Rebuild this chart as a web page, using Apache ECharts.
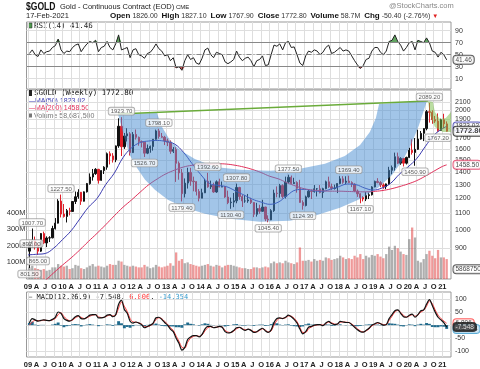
<!DOCTYPE html>
<html><head><meta charset="utf-8">
<script src="https://cdn.jsdelivr.net/npm/echarts/dist/echarts.min.js"></script>
<style>html,body{margin:0;padding:0;background:#fff}#c{width:480px;height:369px}</style>
</head><body><div id="c"></div><script>
// ---- monthly data, Jan 2009 .. Feb 2021 (month index 0 = Jan 2009) ----
const priceOpen = [
 884,928,942,916,884,979,927,954,955,1008,1040,1182,
 1096,1081,1118,1113,1179,1212,1244,1181,1247,1308,1359,1386,
 1421,1333,1411,1439,1556,1536,1502,1628,1825,1620,1725,1746,
 1566,1740,1711,1669,1664,1561,1604,1622,1692,1776,1720,1712,
 1676,1663,1578,1595,1472,1392,1234,1312,1396,1327,1323,1250,
 1202,1240,1326,1284,1295,1246,1322,1282,1287,1210,1171,1175,
 1184,1279,1213,1183,1183,1190,1172,1095,1132,1114,1142,1065,
 1060,1118,1238,1235,1293,1214,1320,1357,1309,1316,1273,1173,
 1152,1211,1252,1249,1269,1269,1242,1270,1322,1284,1271,1275,
 1309,1345,1318,1327,1316,1305,1253,1233,1206,1196,1220,1226,
 1283,1325,1316,1298,1285,1306,1413,1437,1529,1473,1514,1473,
 1523,1588,1567,1596,1694,1751,1800,1986,1978,1896,1880,1780,
 1895,1850];
const priceHigh = [
 943,1008,962,926,982,990,963,964,1024,1071,1195,1227.5,
 1162,1129,1137,1180,1249,1266,1246,1250,1313,1388,1424,1431,
 1425,1412,1447,1567,1577,1561,1632,1911,1923.7,1755,1804,1763,
 1764,1791,1719,1680,1667,1641,1632,1693,1790,1798.1,1755,1726,
 1698,1680,1617,1615,1488,1424,1348,1434,1434,1362,1327,1267,
 1270,1345,1392.6,1331,1315,1333,1346,1324,1290,1256,1206,1239,
 1307.8,1284,1224,1224,1232,1205,1175,1170,1157,1191,1143,1088,
 1128,1263,1287,1306,1303,1362,1377.5,1371,1353,1326,1337,1187,
 1220,1264,1264,1297,1275,1297,1277,1331,1362,1308,1300,1310,
 1366,1366,1365,1369.4,1326,1310,1264,1237,1216,1245,1242,1289,
 1331,1350,1327,1310,1309,1442,1453,1566,1566,1525,1518,1529,
 1611,1692,1704,1789,1775,1803,2005,2089.2,2001,1937,1966,1906,
 1962,1877];
const priceLow = [
 801.5,904,892,865,880,921,905,932,952,1002,1038,1075,
 1074,1044,1088,1112,1162,1198,1156,1179,1242,1300,1331,1376,
 1308,1330,1383,1418,1462,1478,1481,1610,1535,1600,1670,1540,
 1562,1689,1630,1614,1526.7,1552,1565,1584,1688,1698,1706,1636,
 1626,1555,1562,1321,1338,1179.4,1207,1271,1292,1251,1221,1180,
 1202,1238,1277,1268,1240,1240,1280,1281,1204,1161,1130.4,1141,
 1167,1191,1142,1170,1170,1162,1077,1080,1098,1110,1052,1045.4,
 1058,1110,1208,1206,1200,1200,1310,1303,1305,1241,1171,1124.3,
 1146,1206,1196,1241,1214,1236,1204,1266,1276,1260,1264,1238,
 1303,1307,1303,1312,1282,1245,1211,1167.1,1180,1182,1196,1221,
 1280,1310,1281,1269,1267,1299,1381,1410,1465,1459,1445,1462,
 1517,1548,1450.9,1590,1688,1674,1782,1864,1851,1860,1767.2,1775,
 1803,1767.9];
const priceClose = [
 928,942,916,884,979,927,954,955,1008,1040,1182,1096,
 1081,1118,1113,1179,1212,1244,1181,1247,1308,1359,1386,1421,
 1333,1411,1439,1556,1536,1502,1628,1825,1620,1725,1746,1566,
 1740,1711,1669,1664,1561,1604,1622,1692,1776,1720,1712,1676,
 1663,1578,1595,1472,1392,1234,1312,1396,1327,1323,1250,1202,
 1240,1326,1284,1295,1246,1322,1282,1287,1210,1171,1175,1184,
 1279,1213,1183,1183,1190,1172,1095,1132,1114,1142,1065,1060,
 1118,1238,1235,1293,1214,1320,1357,1309,1316,1273,1173,1152,
 1211,1252,1249,1269,1269,1242,1270,1322,1284,1271,1275,1309,
 1345,1318,1327,1316,1305,1253,1233,1206,1196,1220,1226,1283,
 1325,1316,1298,1285,1306,1413,1437,1529,1473,1514,1473,1523,
 1588,1567,1596,1694,1751,1800,1986,1978,1896,1880,1780,1895,
 1850,1772.8];
const volumeM = [
 70,80,65,60,55,60,50,55,70,70,90,80,
 75,80,60,65,85,80,65,60,70,80,90,75,
 80,75,70,80,90,85,85,110,105,85,80,75,
 80,75,70,70,85,75,65,70,85,75,70,75,
 80,95,80,160,110,120,95,100,90,85,80,75,
 80,85,90,80,75,85,80,70,80,85,85,80,
 75,70,65,65,60,60,70,70,65,70,75,70,
 95,105,95,100,95,110,100,95,90,100,190,110,
 110,115,105,120,110,115,110,130,125,115,120,125,
 140,130,120,125,120,140,130,150,120,140,130,145,
 140,150,135,125,150,195,175,200,185,165,150,145,
 240,310,250,110,100,120,150,170,140,125,175,130,
 130,120];
const rsi14 = [
 52,58,50,47,58,52,55,56,62,65,76,58,
 52,56,55,62,66,68,55,62,68,72,70,74,
 55,62,64,72,62,58,68,83,58,60,62,45,
 58,60,50,48,44,52,54,60,68,60,56,48,
 50,40,45,28,30,24,40,50,42,45,36,34,
 44,58,61,50,45,54,52,50,38,35,38,42,
 56,46,40,44,46,40,30,40,42,48,32,33,
 50,66,64,68,58,70,72,62,63,50,36,32,
 48,56,54,58,56,50,54,62,66,52,54,58,
 62,56,58,56,48,40,33,27,32,42,44,56,
 62,62,54,50,56,72,74,83,72,66,56,62,
 70,72,58,74,72,70,78,70,56,54,46,54,
 50,41.46];
const macdLine = [
 8,25,20,15,18,20,18,17,22,30,50,45,
 25,18,15,22,32,36,25,24,30,38,40,40,
 28,28,30,38,40,32,40,80,95,60,45,15,
 8,12,8,2,-10,-5,0,8,28,30,22,10,
 0,-15,-25,-50,-70,-95,-85,-55,-45,-40,-40,-45,
 -35,-15,-5,-5,-10,-8,-5,-8,-25,-30,-28,-20,
 -10,-8,-15,-20,-15,-20,-28,-25,-18,-12,-22,-28,
 -18,10,25,28,25,30,38,32,22,8,-15,-33,
 -25,-8,-5,0,2,2,-2,8,14,6,2,4,
 14,12,10,10,2,-8,-18,-25,-27,-20,-12,0,
 5,10,5,0,2,25,40,55,58,45,32,30,
 38,42,30,40,55,58,80,97,75,50,30,20,
 10,-7.548];
const macdSignal = [
 0,12,18,17,17,19,18,17,20,25,40,47,
 33,22,17,19,28,33,30,25,28,34,38,40,
 32,29,30,35,38,35,38,65,88,72,52,25,
 12,11,9,4,-6,-6,-2,5,22,28,25,14,
 4,-10,-20,-42,-62,-85,-88,-65,-50,-43,-40,-43,
 -38,-22,-10,-6,-9,-8,-6,-7,-20,-27,-28,-23,
 -14,-9,-13,-18,-16,-19,-25,-26,-20,-14,-19,-26,
 -22,0,18,26,26,28,35,34,26,13,-8,-28,
 -28,-14,-7,-2,1,2,0,5,12,9,4,3,
 11,12,11,10,4,-4,-14,-22,-26,-22,-15,-3,
 3,8,6,2,2,18,34,50,56,49,37,31,
 35,40,34,38,50,56,72,92,82,58,38,25,
 16,6.806];
// moving averages (month index, value)
const maMonths = [0,3,6,9,12,15,18,21,24,27,30,33,36,39,42,45,48,51,54,57,60,63,66,69,72,75,78,81,84,87,90,93,96,99,102,105,108,111,114,117,120,123,126,129,132,135,138,141,144,145.5];
const ma50Values = [865,868,872,900,945,995,1065,1140,1200,1300,1390,1520,1610,1660,1675,1680,1670,1645,1570,1470,1380,1310,1295,1285,1255,1225,1195,1175,1160,1175,1220,1260,1265,1255,1250,1265,1285,1305,1300,1275,1260,1275,1310,1380,1440,1510,1620,1730,1800,1823.02];
const ma200Values = [690,715,745,780,815,850,890,935,980,1030,1085,1140,1190,1245,1300,1345,1385,1415,1440,1455,1462,1466,1468,1465,1455,1440,1420,1395,1365,1345,1315,1290,1270,1260,1255,1252,1252,1250,1248,1247,1250,1256,1268,1285,1305,1330,1365,1405,1445,1458.5];
// tick values
const quarterTicks = []; for (let q = 0; q <= 144; q += 3) quarterTicks.push(q);
const priceTicks = [900,1000,1100,1200,1300,1400,1500,1600,1700,1800,1900,2000,2100];
const volumeTicks = [100,200,300,400];
const rsiTicks = [10,30,50,70,90];
const macdTicks = [-100,-50,0,50,100];
const macdLabelTicks = [-100,-50,50,100];
// drawn annotations (month index, price)
const cupOuter = [[31.3,1958],[32.3,1837],[33.7,1685],[35.4,1545],[37.9,1433],[40.7,1337],[44.1,1262],[48.6,1191],[54.6,1137],[61.5,1098],[70.2,1067],[80.6,1049],[91.0,1055],[99.7,1086],[108.4,1137],[115.4,1197],[121.6,1275],[126.5,1376],[130.3,1501],[133.4,1656],[135.9,1837],[137.6,2005],[138.6,2112]];
const cupInner = [[122.0,2076],[120.9,1913],[118.8,1764],[115.4,1637],[110.1,1536],[103.2,1467],[94.5,1425],[84.1,1409],[73.7,1417],[65.0,1441],[58.0,1510],[52.8,1590],[49.3,1685],[46.6,1818],[44.8,1970]];
const handleShape = [[139.0,2112],[139.7,1946],[141.4,1818],[144.2,1764],[147.0,1764],[147.0,1981],[145.2,1913],[143.1,1902],[141.4,1981],[140.7,2100]];
const trendLine = [[31.3,1958],[139.0,2112]];
const annHighs = [[1.5,1007.7],[1.2,892],[11.5,1227.5],[32.5,1923.7],[45.5,1798.1],[62.5,1392.6],[72.5,1307.8],[90.5,1377.5],[111.5,1369.4],[139.5,2089.2]];
const annLows = [[0.5,801.5],[3.5,865],[40.5,1526.7],[53.5,1179.4],[70.5,1130.4],[83.5,1045.4],[95.5,1124.3],[115.5,1167.1],[134.5,1450.9],[142.5,1767.2]];
const lastClose = 1772.8, lastVolume = 58687500, lastRsi = 41.46;

const LN = Math.log;
const FONT = 'Liberation Sans, Arial, sans-serif';
const MONO = 'DejaVu Sans Mono, monospace';
const monthLetter = {3:'A',6:'J',9:'O'};
const XMAX = 147;

function xAxis(gi, show){
  return {type:'value', gridIndex:gi, min:-0.5, max:XMAX,
    axisLine:{show:false},
    axisTick:{show:false, customValues:quarterTicks},
    splitLine:{show:true, lineStyle:{color:'#dedede', width:1}},
    axisLabel:{show:show, customValues:quarterTicks, margin:4, fontSize:7.5, fontWeight:'bold', color:'#222', fontFamily:FONT,
      formatter:v=>{const k=Math.round(v); if(k%12===0) return String(9+k/12).padStart(2,'0'); return monthLetter[k%12]||'';}}};
}
const boxLabel = {fontSize:6, color:'#333', fontFamily:FONT, backgroundColor:'rgba(255,255,255,0.9)', borderColor:'#999', borderWidth:0.8, borderRadius:2, padding:[1,2,0,2]};
function endLabel(color, bold){
  return {show:true, position:'right', distance:2, fontSize:bold?7.5:6.5, fontWeight:bold?'bold':'normal', color:'#111', fontFamily:FONT,
    backgroundColor:'#fff', borderColor:color, borderWidth:1, borderRadius:3, padding:[1,2,0,2]};
}

const idx = priceClose.map((_,i)=>i+0.5);
const candleData = priceOpen.map((o,i)=>[idx[i], LN(o), LN(priceClose[i]), LN(priceLow[i]), LN(priceHigh[i])]);
const volData = volumeM.map((v,i)=>({value:[idx[i], v], itemStyle:{color: priceClose[i] < priceOpen[i] ? 'rgba(225,70,70,0.55)' : 'rgba(110,110,110,0.55)'}}));
const macdHist = macdLine.map((v,i)=>[idx[i], v - macdSignal[i]]);

const option = {
  animation:false,
  backgroundColor:'#fff',
  grid:[
    {left:26.5, right:29, top:22, height:67, show:true, borderColor:'#999', borderWidth:1, backgroundColor:'transparent'},
    {left:26.5, right:29, top:90, height:189, show:true, borderColor:'#999', borderWidth:1},
    {left:26.5, right:29, top:292, height:69, show:true, borderColor:'#999', borderWidth:1}
  ],
  xAxis:[xAxis(0,false), xAxis(1,true), xAxis(2,true)],
  yAxis:[
    {type:'value', gridIndex:0, position:'right', min:-7.2, max:104.5, axisLine:{show:false},
     axisTick:{show:false, customValues:rsiTicks}, splitLine:{lineStyle:{color:'#dedede'}},
     axisLabel:{customValues:rsiTicks, fontSize:7, color:'#333', fontFamily:FONT, margin:4}},
    {type:'value', gridIndex:1, position:'right', min:LN(752), max:LN(2252), axisLine:{show:false},
     axisTick:{show:false, customValues:priceTicks.map(LN)}, splitLine:{lineStyle:{color:'#dedede'}},
     axisLabel:{customValues:priceTicks.map(LN), fontSize:7, color:'#333', fontFamily:FONT, margin:4, formatter:v=>String(Math.round(Math.exp(v)))}},
    {type:'value', gridIndex:1, position:'left', min:0, max:1138, axisLine:{show:false},
     axisTick:{show:false, customValues:volumeTicks}, splitLine:{show:false},
     axisLabel:{customValues:volumeTicks, fontSize:7.5, color:'#333', fontFamily:FONT, margin:1, formatter:v=>v+'M'}},
    {type:'value', gridIndex:2, position:'right', min:-121.6, max:126.4, axisLine:{show:false},
     axisTick:{show:false, customValues:macdTicks}, splitLine:{lineStyle:{color:'#dedede'}},
     axisLabel:{customValues:macdLabelTicks, fontSize:7, color:'#333', fontFamily:FONT, margin:4}}
  ],
  series:[
    // RSI
    {type:'line', xAxisIndex:0, yAxisIndex:0, data:rsi14.map((v,i)=>[idx[i], Math.max(v,70)]), symbol:'none',
     lineStyle:{width:0}, areaStyle:{origin:70, color:'#4f9a4f', opacity:0.9}, z:2},
    {type:'line', xAxisIndex:0, yAxisIndex:0, data:rsi14.map((v,i)=>[idx[i], Math.min(v,30)]), symbol:'none',
     lineStyle:{width:0}, areaStyle:{origin:30, color:'#c04040', opacity:0.9}, z:2},
    {type:'line', xAxisIndex:0, yAxisIndex:0, data:rsi14.map((v,i)=>[idx[i], v]), symbol:'none',
     lineStyle:{color:'#222', width:1}, z:3,
     markLine:{silent:true, symbol:'none', label:{show:false}, animation:false,
       data:[{yAxis:70, lineStyle:{color:'#888', type:'solid', width:1}},
             {yAxis:30, lineStyle:{color:'#888', type:'solid', width:1}},
             {yAxis:50, lineStyle:{color:'#888', type:[5,2,1,2], width:1}}]}},
    {type:'scatter', xAxisIndex:0, yAxisIndex:0, data:[[XMAX, lastRsi]], symbolSize:1, itemStyle:{color:'rgba(0,0,0,0)'}, clip:false, z:20,
     label:Object.assign(endLabel('#333', false), {formatter:d=>d.value[1].toFixed(2)})},
    // Volume
    {type:'bar', xAxisIndex:1, yAxisIndex:2, data:volData, barWidth:2.3, z:2},
    // price candles
    {type:'candlestick', xAxisIndex:1, yAxisIndex:1, data:candleData, encode:{x:0, y:[1,2,3,4]}, barWidth:1.8, z:3,
     itemStyle:{color:'#111', color0:'#e0202a', borderColor:'#111', borderColor0:'#e0202a', borderWidth:1}},
    // moving averages
    {type:'line', xAxisIndex:1, yAxisIndex:1, data:maMonths.map((m,i)=>[m, LN(ma50Values[i])]), symbol:'none', smooth:0.4,
     lineStyle:{color:'#3a3ab0', width:1}, z:4},
    {type:'line', xAxisIndex:1, yAxisIndex:1, data:maMonths.map((m,i)=>[m, LN(ma200Values[i])]), symbol:'none', smooth:0.4,
     lineStyle:{color:'#e0305a', width:1}, z:4},
    // cup
    {type:'custom', xAxisIndex:1, yAxisIndex:1, data:[[0,0]], z:5, silent:true, clip:true,
     renderItem:(p, api)=>({type:'polygon', shape:{points:cupOuter.concat(cupInner).map(([m,v])=>api.coord([m, LN(v)]))},
       style:{fill:'rgba(70,140,210,0.5)'}})},
    // handle
    {type:'custom', xAxisIndex:1, yAxisIndex:1, data:[[0,0]], z:5, silent:true, clip:true,
     renderItem:(p, api)=>({type:'polygon', shape:{points:handleShape.map(([m,v])=>api.coord([m, LN(v)]))},
       style:{fill:'rgba(120,190,70,0.5)'}})},
    // trend line
    {type:'line', xAxisIndex:1, yAxisIndex:1, data:trendLine.map(([m,v])=>[m, LN(v)]), symbol:'none',
     lineStyle:{color:'#6aab3a', width:1.5}, z:6},
    // annotations
    {type:'scatter', xAxisIndex:1, yAxisIndex:1, data:annHighs.map(([m,v])=>[m, LN(v), v]), symbolSize:1, itemStyle:{color:'rgba(0,0,0,0)'}, clip:false, z:8,
     label:Object.assign({show:true, position:'top', distance:2, formatter:d=>d.value[2].toFixed(2)}, boxLabel)},
    {type:'scatter', xAxisIndex:1, yAxisIndex:1, data:annLows.map(([m,v])=>[m, LN(v), v]), symbolSize:1, itemStyle:{color:'rgba(0,0,0,0)'}, clip:false, z:8,
     label:Object.assign({show:true, position:'bottom', distance:2, formatter:d=>d.value[2].toFixed(2)}, boxLabel)},
    // end labels main
    {type:'scatter', xAxisIndex:1, yAxisIndex:1, data:[[XMAX, LN(ma50Values[ma50Values.length-1]), ma50Values[ma50Values.length-1]]], symbolSize:1, itemStyle:{color:'rgba(0,0,0,0)'}, clip:false, z:20,
     label:Object.assign(endLabel('#3a3ab0', false), {formatter:d=>d.value[2].toFixed(2)})},
    {type:'scatter', xAxisIndex:1, yAxisIndex:1, data:[[XMAX, LN(ma200Values[ma200Values.length-1]), ma200Values[ma200Values.length-1]]], symbolSize:1, itemStyle:{color:'rgba(0,0,0,0)'}, clip:false, z:20,
     label:Object.assign(endLabel('#e0305a', false), {formatter:d=>d.value[2].toFixed(2)})},
    {type:'scatter', xAxisIndex:1, yAxisIndex:1, data:[[XMAX, LN(lastClose), lastClose]], symbolSize:1, itemStyle:{color:'rgba(0,0,0,0)'}, clip:false, z:21,
     label:Object.assign(endLabel('#111', true), {formatter:d=>d.value[2].toFixed(2)})},
    {type:'scatter', xAxisIndex:1, yAxisIndex:2, data:[[XMAX, lastVolume/1e6]], symbolSize:1, itemStyle:{color:'rgba(0,0,0,0)'}, clip:false, z:20,
     label:Object.assign(endLabel('#333', false), {formatter:()=>String(lastVolume)})},
    // MACD
    {type:'bar', xAxisIndex:2, yAxisIndex:3, data:macdHist, barWidth:2.9, itemStyle:{color:'#1f6a8c'}, z:2},
    {type:'line', xAxisIndex:2, yAxisIndex:3, data:macdSignal.map((v,i)=>[idx[i], v]), symbol:'none', smooth:0.3,
     lineStyle:{color:'#ff3b3b', width:1}, z:3},
    {type:'line', xAxisIndex:2, yAxisIndex:3, data:macdLine.map((v,i)=>[idx[i], v]), symbol:'none', smooth:0.3,
     lineStyle:{color:'#111', width:1.2}, z:4},
    {type:'scatter', xAxisIndex:2, yAxisIndex:3, data:[[XMAX, macdSignal[macdSignal.length-1]]], symbolSize:1, itemStyle:{color:'rgba(0,0,0,0)'}, clip:false, z:20,
     label:Object.assign(endLabel('#ff3b3b', false), {formatter:d=>d.value[1].toFixed(3)})},
    {type:'scatter', xAxisIndex:2, yAxisIndex:3, data:[[XMAX, macdHist[macdHist.length-1][1]]], symbolSize:1, itemStyle:{color:'rgba(0,0,0,0)'}, clip:false, z:20,
     label:Object.assign(endLabel('#3399cc', false), {formatter:d=>d.value[1].toFixed(3), backgroundColor:'#cfe6f5'})},
    {type:'scatter', xAxisIndex:2, yAxisIndex:3, data:[[XMAX, macdLine[macdLine.length-1]]], symbolSize:1, itemStyle:{color:'rgba(0,0,0,0)'}, clip:false, z:21,
     label:Object.assign(endLabel('#111', false), {formatter:d=>d.value[1].toFixed(3), backgroundColor:'#333', color:'#fff'})}
  ],
  graphic:[
    {type:'text', x:26, y:1, scaleX:0.78, style:{text:'$GOLD', font:'bold 11px Liberation Sans, Arial', fill:'#111'}},
    {type:'text', x:60, y:3, style:{text:'Gold - Continuous Contract (EOD)', font:'7.5px Liberation Sans, Arial', fill:'#222'}},
    {type:'text', x:176, y:4, style:{text:'CME', font:'6px Liberation Sans, Arial', fill:'#222'}},
    {type:'text', x:26, y:12, style:{text:'17-Feb-2021', font:'7.5px Liberation Sans, Arial', fill:'#222'}},
    {type:'text', x:110, y:12, style:{text:'{b|Open} 1826.00  {b|High} 1827.10  {b|Low} 1767.90  {b|Close} 1772.80  {b|Volume} 58.7M  {b|Chg} -50.40 (-2.76%) {r|▼}',
      font:'7px Liberation Sans, Arial', fill:'#333', rich:{b:{font:'bold 8px Liberation Sans, Arial', fill:'#111'}, r:{font:'6px Liberation Sans', fill:'#e02020'}}}},
    {type:'text', x:389, y:2, style:{text:'@StockCharts.com', font:'7.5px Liberation Sans, Arial', fill:'#888'}},
    {type:'rect', shape:{x:28, y:23, width:4, height:5}, style:{fill:'#4f9a4f', stroke:'#222', lineWidth:0.5}},
    {type:'text', x:34, y:22.5, style:{text:'RSI(14) 41.46', font:'7.5px '+MONO, fill:'#222'}},
    {type:'rect', shape:{x:28, y:90, width:4, height:6}, style:{fill:'#222'}},
    {type:'text', x:34, y:89.5, style:{text:'$GOLD (Weekly) 1772.80', font:'7.5px '+MONO, fill:'#111'}},
    {type:'text', x:28, y:97.5, style:{text:'—MA(50) 1823.02', font:'7px Liberation Sans, Arial', fill:'#3a3ab0'}},
    {type:'text', x:28, y:105, style:{text:'—MA(200) 1458.50', font:'7px Liberation Sans, Arial', fill:'#e0305a'}},
    {type:'rect', shape:{x:28, y:113.5, width:4, height:4}, style:{fill:'#777'}},
    {type:'text', x:34, y:112.5, style:{text:'Volume 58,687,500', font:'7px Liberation Sans, Arial', fill:'#777'}},
    {type:'text', x:28, y:293.5, style:{text:'— MACD(12,26,9) -7.548, {r|6.806}, {b|-14.354}', font:'7px '+MONO, fill:'#111',
      rich:{r:{fill:'#ff3b3b', font:'7px '+MONO}, b:{fill:'#3399cc', font:'7px '+MONO}}}}
  ]
};
const chart = echarts.init(document.getElementById('c'), null, {renderer:'canvas'});
chart.setOption(option);
</script></body></html>
